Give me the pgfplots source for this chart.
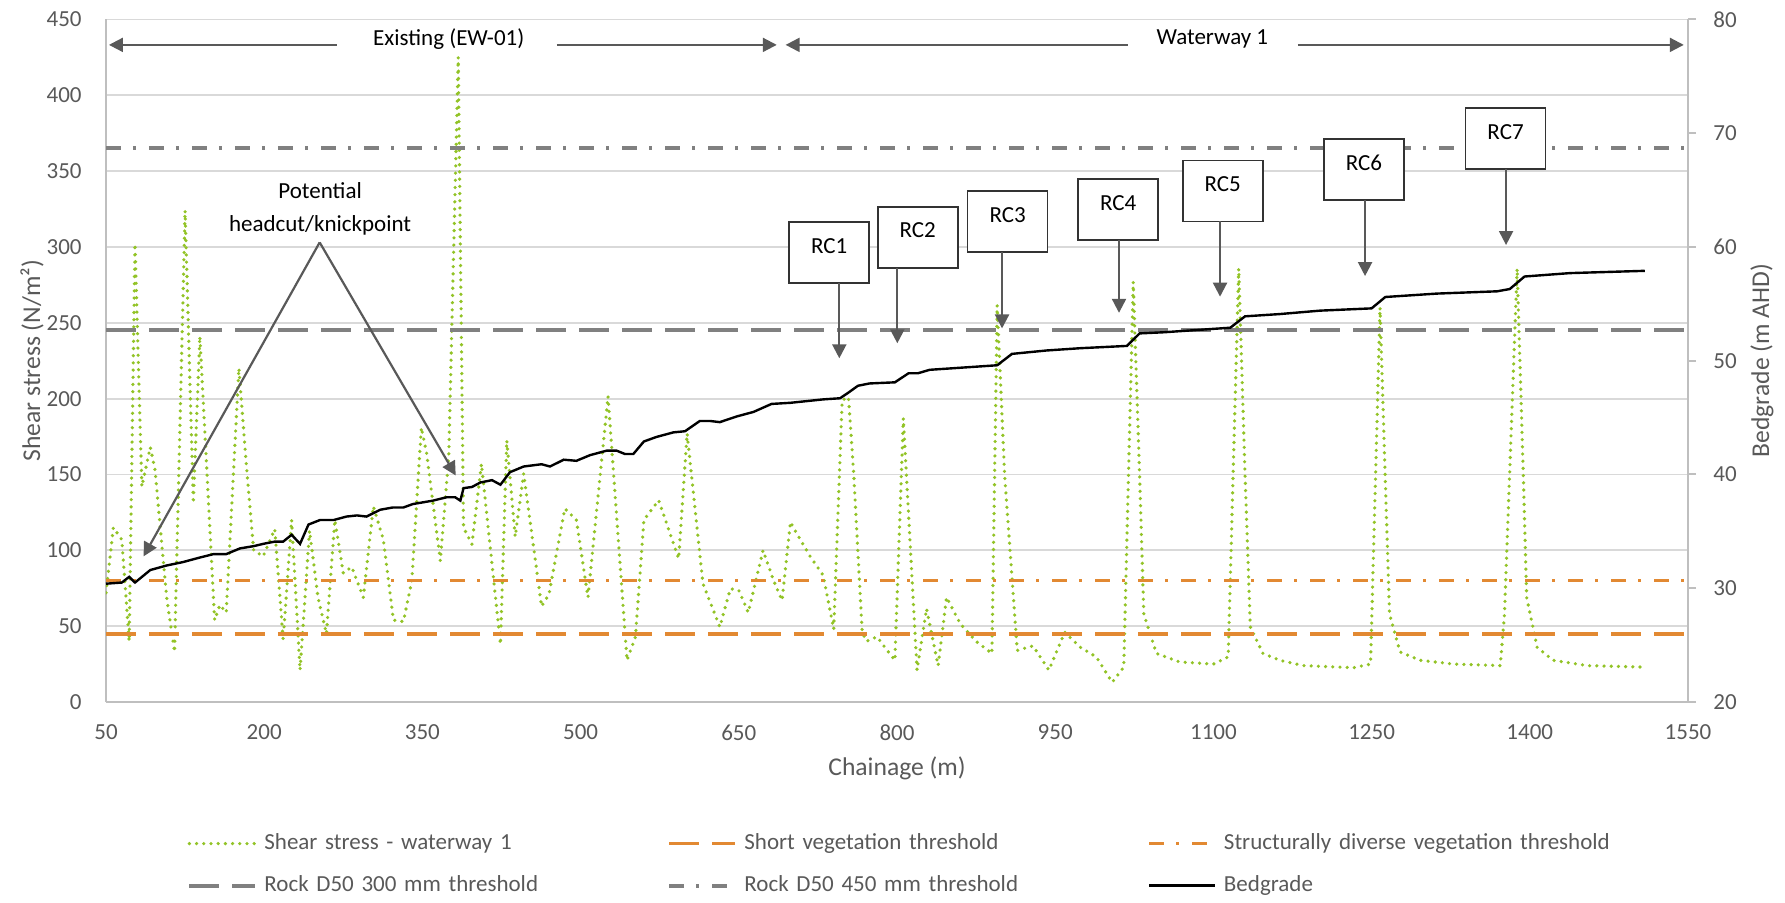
\documentclass[border=0pt]{standalone}
\usepackage{fontspec}
\setmainfont{Carlito}
\usepackage{pgfplots}
\usepackage{pgfplotstable}
\pgfplotsset{compat=1.18}
\usetikzlibrary{arrows.meta}

\definecolor{shearcol}{RGB}{146,195,38}
\definecolor{vegcol}{RGB}{226,137,50}
\definecolor{rockcol}{RGB}{128,128,128}
\definecolor{gridcol}{RGB}{217,217,217}
\definecolor{axiscol}{RGB}{191,191,191}
\definecolor{labelcol}{RGB}{89,89,89}
\definecolor{notecol}{RGB}{89,89,89}

\tikzset{
  shearline/.style={shearcol, line width=1.8pt, line cap=round, dash pattern=on 0pt off 3.6pt},
  shortveg/.style={vegcol, line width=1.8pt, dash pattern=on 15pt off 6.5pt},
  structveg/.style={vegcol, line width=1.8pt, dash pattern=on 7.5pt off 6pt on 1.5pt off 6.5pt},
  rock300/.style={rockcol, line width=2pt, dash pattern=on 15pt off 6.5pt},
  rock450/.style={rockcol, line width=2pt, dash pattern=on 7.5pt off 6pt on 1.5pt off 6.5pt},
  bedline/.style={black, line width=1.2pt},
  notearrow/.style={notecol, line width=1.1pt, -{Triangle[length=7pt, width=7pt]}},
  rcbox/.style={draw=black!80, line width=0.85pt, fill=white, minimum width=40pt, minimum height=30.5pt, inner sep=0pt},
  notetext/.style={font=\fontsize{11.5}{16.5}\selectfont, text=black},
}

% chainage (m) vs shear stress (N/m2), waterway 1
\pgfplotstableread{
ch s
50 72
57 115
65 107
72 40
77.5 302
84 142
92 168
96.5 153
107.5 69
115 33
125 324
128 250
132.8 131
139 241
153 54
158 64
164 59
176 220
183 157
190 100
199 96
210 114
218 41
226 120
234 21
243 113
251 69
259 45
267 120
275 85
283 89
294 69
303.5 129
313 107
322.5 54
332 53
340 80
349 181
354 164
367 93
375 162
384 425
389 115
397 104
406 157
424 38
430 172.5
438 109
446 150.5
463 63
470 71
485 127.5
496 120
507 69
526 201.5
544 27.5
552 43
560 120
574 133
593 94.5
601 177
616 78
632 49.5
642 74.7
650 73.6
659 59
673 100
683 80
691 67
699 118.7
705 111
718 95.6
730 83.5
740 48
748 199
754 201
759 150
767 46
771 40
781 43
793 32
798 27.5
806 187
819 21
828 61.5
839 24
847 69
860 51.6
875 40
890 32
895 261.5
902 150
914 34
929 37
944 21
959 46
974 36
989 29.7
1004 13
1015 23
1024 277
1030 150
1034 58
1046 32
1068 26.4
1100 25
1114 29.7
1124 285.7
1130 150
1135 49.5
1147 32
1163 27.5
1185 24
1233 22.6
1249 25
1258 260
1263 146
1267 58
1277 33
1296 27.5
1328 25
1372 24
1376 58
1388 285.7
1394 146
1397 69
1407 36
1422 27.5
1454 24
1509 23
}\sheartable

% chainage (m) vs bed level (m AHD)
\pgfplotstableread{
ch z
50 30.4
65 30.5
72 31.0
77.5 30.5
92 31.6
107.5 32.0
123 32.3
139 32.7
152 33.0
164 33.0
177 33.5
190 33.7
199 33.9
210 34.1
218 34.1
226 34.7
234 33.9
242 35.6
253 36.0
266 36.0
278 36.3
288 36.4
297 36.3
310 36.9
322 37.1
332 37.1
341 37.4
360 37.7
373 38.0
381 38.0
386 37.7
389 38.8
397 38.9
405 39.3
416 39.5
424 39.1
433 40.2
446 40.7
463 40.9
471 40.7
484 41.3
496 41.2
509 41.7
525 42.1
534 42.1
542 41.8
550 41.8
560 42.9
572 43.3
588 43.7
599 43.8
613 44.7
623 44.7
632 44.6
648 45.1
664 45.5
681 46.2
699 46.3
730 46.6
746 46.7
754 47.2
763 47.8
774 48.0
798 48.1
811 48.9
820 48.9
831 49.2
863 49.4
895 49.6
909 50.6
942 50.9
974 51.1
1018 51.3
1030 52.4
1053 52.5
1116 52.9
1130 53.9
1163 54.1
1201 54.4
1250 54.6
1263 55.6
1312 55.9
1369 56.1
1381 56.3
1395 57.4
1438 57.7
1509 57.9
}\bedtable

\pgfplotsset{
  chartbase/.style={
    scale only axis, width=791pt, height=341.3pt,
    xmin=50, xmax=1550,
    at={(0pt,0pt)}, anchor=south west,
    ticklabel style={font=\fontsize{11.5}{13}\selectfont, text=labelcol},
    label style={font=\fontsize{12.8}{15}\selectfont, text=labelcol},
    /pgf/number format/assume math mode=true,
    /pgf/number format/1000 sep={},
  },
}

\begin{document}
\begin{tikzpicture}
\useasboundingbox (-53pt,-100pt) rectangle (839.5pt,351pt);

% left axis: shear stress and thresholds
\begin{axis}[
  chartbase,
  ymin=0, ymax=450,
  axis x line*=bottom, axis y line*=left,
  axis line style={axiscol, line width=1pt},
  xtick={50,200,...,1550}, ytick={0,50,...,450},
  major tick length=0pt,
  tick style={draw=none},
  ymajorgrids, grid style={gridcol, line width=0.9pt},
  xticklabel style={inner ysep=0pt, anchor=north},
  xticklabel shift=11.3pt,
  yticklabel style={inner xsep=0pt, anchor=east},
  yticklabel shift=12pt,
  xlabel={Chainage (m)},
  xlabel style={at={(axis description cs:0.5,-0.0967)}, anchor=center},
  ylabel={Shear stress (N/m²)},
  ylabel style={at={(axis description cs:-0.0468,0.5)}, anchor=center},
]
\addplot[shearline] table[x=ch, y=s] {\sheartable};
\addplot[shortveg] coordinates {(50,45) (1550,45)};
\addplot[structveg] coordinates {(50,80) (1550,80)};
\addplot[rock300] coordinates {(50,245) (1550,245)};
\addplot[rock450] coordinates {(50,365) (1550,365)};
\end{axis}

% right axis: bed level, notes and the legend
\begin{axis}[
  chartbase,
  ymin=20, ymax=80,
  axis x line=none, axis y line*=right,
  axis line style={axiscol, line width=1pt},
  ytick={20,30,...,80},
  tick align=outside, major tick length=4pt,
  ytick style={axiscol, line width=1pt},
  yticklabel style={inner xsep=0pt, anchor=west},
  yticklabel shift=8.5pt,
  ylabel={Bedgrade (m AHD)},
  ylabel style={at={(axis description cs:1.0468,0.5)}, anchor=center},
  clip=false,
  legend columns=3,
  legend cell align=left,
  legend image code/.code={\draw[#1] (0pt,0pt) -- (33pt,0pt);},
  legend style={
    at={(axis description cs:0.0512,-0.2382)}, anchor=west,
    draw=none, fill=none, inner sep=0pt,
    font=\fontsize{11.5}{13}\selectfont, text=labelcol,
    nodes={inner xsep=0pt, inner ysep=0pt, text width=201.5pt, align=left, text height=8pt, text depth=2.5pt},
    row sep=10.5pt,
    /tikz/every odd column/.append style={column sep=3.5pt},
  },
]
\addlegendimage{shearline}
\addlegendentry{Shear stress - waterway 1}
\addlegendimage{shortveg}
\addlegendentry{Short vegetation threshold}
\addlegendimage{structveg}
\addlegendentry{Structurally diverse vegetation threshold}
\addlegendimage{rock300}
\addlegendentry{Rock  D50 300 mm threshold}
\addlegendimage{rock450}
\addlegendentry{Rock D50 450 mm threshold}
\addplot[bedline] table[x=ch, y=z] {\bedtable};
\addlegendentry{Bedgrade}

% reach extents along the top
\draw[notearrow] (axis cs:269,77.76) -- (axis cs:52.8,77.76);
\draw[notearrow] (axis cs:477.6,77.76) -- (axis cs:686,77.76);
\draw[notearrow] (axis cs:1019,77.76) -- (axis cs:694.4,77.76);
\draw[notearrow] (axis cs:1180,77.76) -- (axis cs:1546,77.76);
\node[notetext] at (axis cs:375,78.27) {Existing (EW-01)};
\node[notetext] at (axis cs:1099,78.27) {Waterway 1};

% headcut / knickpoint callout
\node[notetext, align=center] at (axis cs:253,63.36) {Potential\\headcut/knickpoint};
\draw[notearrow] (axis cs:252.6,60.4) -- (axis cs:85.6,32.8);
\draw[notearrow] (axis cs:252.6,60.4) -- (axis cs:381.6,39.91);

% rock chutes
\node[rcbox] at (axis cs:735.7,59.51) {};
\node[notetext] at (axis cs:735.7,59.51) [yshift=3.4pt] {RC1};
\draw[notearrow] (axis cs:745.3,56.83) -- (axis cs:745.3,50.21);
\node[rcbox] at (axis cs:819.6,60.85) {};
\node[notetext] at (axis cs:819.6,60.85) [yshift=3.4pt] {RC2};
\draw[notearrow] (axis cs:800.3,58.17) -- (axis cs:800.3,51.53);
\node[rcbox] at (axis cs:904.9,62.23) {};
\node[notetext] at (axis cs:904.9,62.23) [yshift=3.4pt] {RC3};
\draw[notearrow] (axis cs:899.6,59.56) -- (axis cs:899.6,52.84);
\node[rcbox] at (axis cs:1009.7,63.29) {};
\node[notetext] at (axis cs:1009.7,63.29) [yshift=3.4pt] {RC4};
\draw[notearrow] (axis cs:1010.5,60.64) -- (axis cs:1010.5,54.21);
\node[rcbox] at (axis cs:1108.8,64.92) {};
\node[notetext] at (axis cs:1108.8,64.92) [yshift=3.4pt] {RC5};
\draw[notearrow] (axis cs:1106.3,62.25) -- (axis cs:1106.3,55.63);
\node[rcbox] at (axis cs:1242.7,66.81) {};
\node[notetext] at (axis cs:1242.7,66.81) [yshift=3.4pt] {RC6};
\draw[notearrow] (axis cs:1243.8,64.15) -- (axis cs:1243.8,57.44);
\node[rcbox] at (axis cs:1377,69.53) {};
\node[notetext] at (axis cs:1377,69.53) [yshift=3.4pt] {RC7};
\draw[notearrow] (axis cs:1377.5,66.85) -- (axis cs:1377.5,60.17);
\end{axis}
\end{tikzpicture}
\end{document}
